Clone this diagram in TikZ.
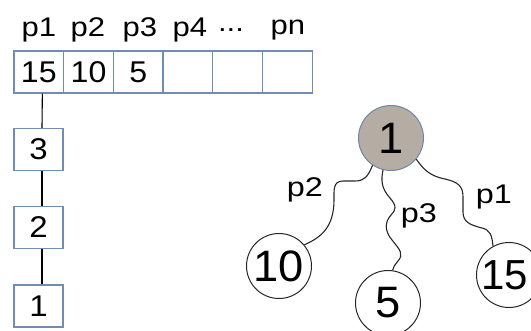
\documentclass[tikz,border=0pt]{standalone}
\usepackage{fontspec}
\setmainfont{Liberation Sans}
\definecolor{boxblue}{HTML}{6F8DB5}
\definecolor{rootfill}{HTML}{B5ACA3}
\definecolor{rootedge}{HTML}{6E87A6}
% wide lettering: horizontally stretched text
\newcommand{\widetext}[2]{\scalebox{#1}[1]{#2}}
\begin{document}
\begin{tikzpicture}[x=1pt,y=-1pt,
  cell/.style={draw=boxblue,line width=1.3pt,minimum width=49.7pt,minimum height=42pt,inner sep=0pt,font=\fontsize{30}{30}\selectfont},
  stackbox/.style={draw=boxblue,line width=1.3pt,minimum width=49pt,minimum height=42pt,inner sep=0pt,font=\fontsize{30}{30}\selectfont},
  head/.style={inner sep=0pt,font=\fontsize{27}{27}\selectfont},
  vertex/.style={circle,draw=black!85,line width=1pt,minimum size=65pt,inner sep=0pt,font=\fontsize{44}{44}\selectfont},
  edgelabel/.style={inner sep=0pt,font=\fontsize{27}{27}\selectfont},
  link/.style={black,line width=1.1pt},
  wire/.style={black!85,line width=1.1pt}]
\useasboundingbox (0,0) rectangle (531,331);

% array of processes
\foreach \i/\t in {1/15,2/10,3/5,4/,5/,6/}
  \node[cell] (c\i) at ({14+49.7*(\i-0.5)},72) {\widetext{1.07}{\t}};

% column headers
\node[head] (h1) at (39,30) {\widetext{1.15}{p1}};
\node[head] (h2) at (88,30) {\widetext{1.15}{p2}};
\node[head] (h3) at (140,30) {\widetext{1.15}{p3}};
\node[head] (h4) at (190,30) {\widetext{1.15}{p4}};
\node[head] (h5) at (231,30) {\widetext{1.15}{...}};
\node[head] (h6) at (288,30) {\widetext{1.15}{pn}};

% linked stack below the first cell
\node[stackbox] (b3) at (38.5,149.5) {\widetext{1.1}{3}};
\node[stackbox] (b2) at (38.5,227.5) {\widetext{1.1}{2}};
\node[stackbox] (b1) at (38.5,306) {\widetext{1.1}{1}};
\draw[link] ([xshift=3.5pt]c1.south) -- ([xshift=3.5pt]b3.north);
\draw[link] ([xshift=3.5pt]b3.south) -- ([xshift=3.5pt]b2.north);
\draw[link] ([xshift=3.5pt]b2.south) -- ([xshift=3.5pt]b1.north);

% tree
\node[vertex,fill=rootfill,draw=rootedge] (root) at (391,138) {\widetext{1.03}{1}};
\node[vertex] (n10) at (279,266) {\widetext{1.03}{10}};
\node[vertex] (n5) at (388,303) {\widetext{1.03}{5}};
\node[vertex,font=\fontsize{42}{42}\selectfont] (n15) at (509,275) {\hspace*{-8pt}15};

\draw[wire] (root.236) .. controls (368,176) and (365,181) .. (355,181)
  -- (343,181) .. controls (333,181) and (334,190) .. (334,200)
  .. controls (334,228) and (320,238) .. (n10.40);
\draw[wire] (root.256) .. controls (381,180) and (381,188) .. (390,198)
  .. controls (397,206) and (396,210) .. (391,215)
  .. controls (385,222) and (384,230) .. (392,240)
  .. controls (400,250) and (404,254) .. (398,261)
  .. controls (395,265) and (393,267) .. (n5.82);
\draw[wire] (root.320) .. controls (424,170) and (430,176) .. (445,179)
  .. controls (458,182) and (463,186) .. (463,197) -- (463,212)
  .. controls (463,222) and (470,225) .. (482,228)
  .. controls (490,230) and (492,235) .. (n15.119);

\node[edgelabel] (l2) at (305,190) {\widetext{1.2}{p2}};
\node[edgelabel] (l3) at (419,216) {\widetext{1.2}{p3}};
\node[edgelabel] (l1) at (494,197) {\widetext{1.2}{p1}};
\end{tikzpicture}
\end{document}
